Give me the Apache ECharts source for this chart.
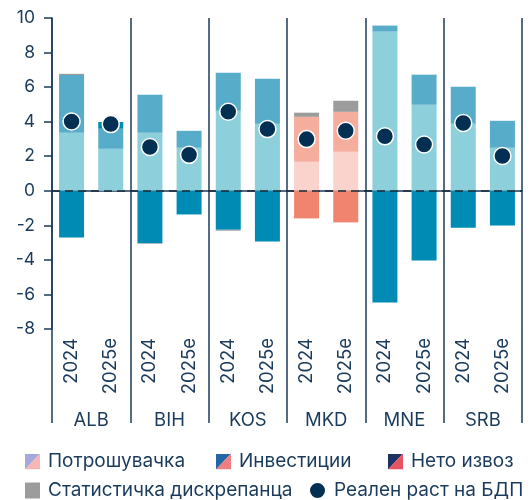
<!DOCTYPE html>
<html>
<head>
<meta charset="utf-8">
<script src="https://cdn.jsdelivr.net/npm/echarts@6/dist/echarts.min.js"></script>
<style>html,body{margin:0;padding:0;background:#fff}#c{width:532px;height:500px}</style>
</head>
<body>
<div id="c"></div>
<script>
const countries = ['ALB', 'BIH', 'KOS', 'MKD', 'MNE', 'SRB'];
const years = ['2024', '2025e'];
const consumption = [3.36, 2.43, 3.36, 2.49, 4.63, 3.88, 1.68, 2.26, 9.21, 4.98, 3.88, 2.49];
const investment = [3.34, 1.16, 2.20, 0.98, 2.20, 2.61, 2.60, 2.31, 0.35, 1.74, 2.14, 1.56];
const netExports = [-2.70, 0.39, -3.03, -1.37, -2.26, -2.93, -1.60, -1.83, -6.47, -4.03, -2.14, -2.01];
const statDisc = [0.07, 0, -0.03, 0, -0.05, 0, 0.24, 0.64, 0, 0, 0, 0];
const gdpGrowth = [4.01, 3.86, 2.53, 2.08, 4.57, 3.57, 2.99, 3.47, 3.15, 2.68, 3.92, 2.01];
const yTicks = { min: -8, max: 10, interval: 2 };
const seriesNames = ['Потрошувачка', 'Инвестиции', 'Нето извоз', 'Статистичка дискрепанца', 'Реален раст на БДП'];

const categories = [];
countries.forEach(() => years.forEach(y => categories.push(y)));

const NAVY = '#1b3b5c';
const FONT = 'Inter';
const blue = ['#8dcfda', '#56acc9', '#008bb5'];
const pink = ['#f9d3cc', '#f5ad9e', '#f0846e'];
const highlight = 'MKD';

function colored(values, idx) {
  return values.map((v, i) => {
    const c = countries[Math.floor(i / years.length)];
    return { value: v, itemStyle: { color: c === highlight ? pink[idx] : blue[idx] } };
  });
}

function tri(c1, c2) {
  const svg = `<svg xmlns="http://www.w3.org/2000/svg" width="15" height="16"><polygon points="0,0 15,0 0,16" fill="${c1}"/><polygon points="15,0 15,16 0,16" fill="${c2}"/></svg>`;
  return 'image://data:image/svg+xml;charset=utf-8,' + encodeURIComponent(svg);
}
const icons = [
  tri('#a4a9dc', '#f6b6b4'),
  tri('#2567a4', '#ee7f7f'),
  tri('#1f3063', '#e9525f'),
  'rect',
  'circle'
];
const legendPos = [
  { left: 25, top: 452 },
  { left: 216, top: 452 },
  { left: 388, top: 452 },
  { left: 25, top: 481 },
  { left: 308, top: 481 }
];
const legends = seriesNames.map((n, i) => ({
  data: [{ name: n, icon: icons[i] }],
  left: legendPos[i].left,
  top: legendPos[i].top,
  padding: 0,
  itemWidth: i === 4 ? 17 : 15,
  itemHeight: i === 4 ? 17 : 16,
  selectedMode: false,
  textStyle: { fontFamily: FONT, fontSize: 19, color: NAVY, padding: [0, 0, 0, 3] }
}));

const barCommon = { type: 'bar', stack: 'g', barWidth: 25, xAxisIndex: 0 };

const option = {
  animation: false,
  legend: legends,
  grid: { left: 52, right: 10, top: 18, bottom: 171, containLabel: false },
  xAxis: [
    {
      type: 'category', data: categories, position: 'bottom', boundaryGap: true,
      axisLine: { show: true, lineStyle: { color: NAVY, width: 1.5 } },
      axisTick: { show: false },
      axisLabel: { rotate: 90, margin: 9, fontFamily: FONT, fontSize: 18.5, color: NAVY, interval: 0 },
      splitLine: { show: false }
    },
    {
      type: 'category', data: countries, position: 'bottom', boundaryGap: true,
      axisLine: { show: false },
      axisTick: { show: true, length: 94, interval: 0, lineStyle: { color: NAVY, width: 1.5 } },
      axisLabel: { margin: 82, fontFamily: FONT, fontSize: 18.5, color: NAVY, interval: 0 },
      splitLine: { show: true, interval: 0, lineStyle: { color: NAVY, width: 1.5 } }
    }
  ],
  yAxis: {
    type: 'value', min: yTicks.min, max: yTicks.max, interval: yTicks.interval,
    axisLine: { show: true, lineStyle: { color: NAVY, width: 1.5 } },
    axisTick: { show: true, length: 8, lineStyle: { color: NAVY, width: 1.5 } },
    axisLabel: { margin: 17, fontFamily: FONT, fontSize: 17.5, color: NAVY },
    splitLine: { show: false }
  },
  series: [
    Object.assign({ name: seriesNames[0], data: colored(consumption, 0), itemStyle: { color: blue[0] },
      markLine: { silent: true, symbol: 'none', label: { show: false },
        lineStyle: { color: '#1a2a3a', width: 1.5, type: [8, 5] }, data: [{ yAxis: 0 }] } }, barCommon),
    Object.assign({ name: seriesNames[1], data: colored(investment, 1), itemStyle: { color: blue[1] } }, barCommon),
    Object.assign({ name: seriesNames[2], data: colored(netExports, 2), itemStyle: { color: blue[2] } }, barCommon),
    Object.assign({ name: seriesNames[3], data: statDisc, itemStyle: { color: '#9c9c9c' } }, barCommon),
    {
      name: seriesNames[4], type: 'scatter', data: gdpGrowth, xAxisIndex: 0,
      symbol: 'circle', symbolSize: 17, z: 10,
      itemStyle: { color: '#022f52', borderColor: '#ffffff', borderWidth: 1.5, opacity: 1 }
    }
  ]
};

const chart = echarts.init(document.getElementById('c'), null, { renderer: 'canvas' });
chart.setOption(option);
</script>
</body>
</html>
